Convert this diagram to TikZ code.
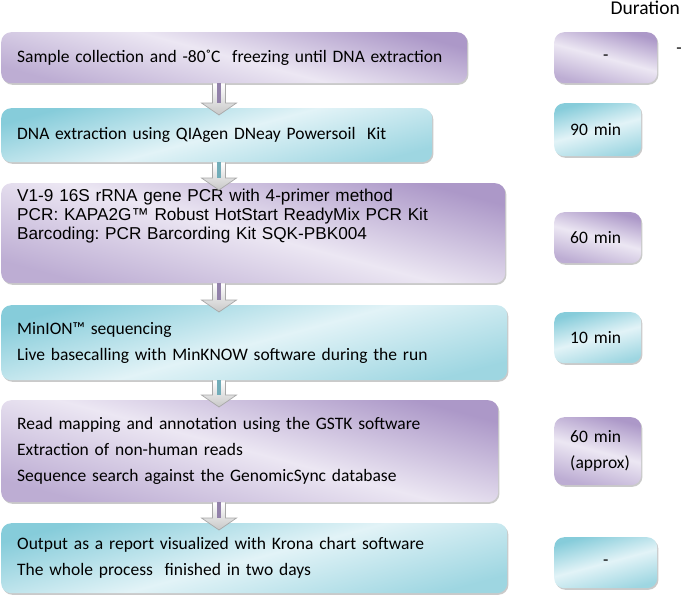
\documentclass[tikz,border=0pt]{standalone}
\usepackage{fontspec}
\setmainfont{Carlito}
\newfontfamily\arialf{Liberation Sans}
\frenchspacing
\usetikzlibrary{calc,shadows}
\definecolor{pdark}{HTML}{AC98C8}
\definecolor{plight}{HTML}{ECE7F3}
\definecolor{cdark}{HTML}{86CCDA}
\definecolor{clight}{HTML}{E2F3F7}
\definecolor{arrline}{HTML}{A8A8A8}
\tikzset{
  box/.style={anchor=north west, rounded corners=10pt, draw=none,
    align=left, inner xsep=16pt, inner ysep=0pt,
    font=\fontsize{17.5}{26}\selectfont,
    drop shadow={shadow xshift=1.2pt, shadow yshift=-1.6pt, opacity=0.35, fill=black!60}},
  pbox/.style={box, top color=pdark, bottom color=pdark!80!white, middle color=plight, shading angle=-15},
  cbox/.style={box, top color=cdark, bottom color=cdark!80!white, middle color=clight, shading angle=15},
  blockarr/.style={draw=arrline, line width=0.7pt, top color=white, bottom color=black!22, line join=miter},
  lbl/.style={font=\fontsize{17.5}{26}\selectfont, inner sep=0pt}
}
\newcommand{\flowarr}[3]{%
  \coordinate (T) at ($(#1.south west)+(218,0)$);
  \coordinate (P) at ($(#2.north west)+(218,7)$);
  \draw[blockarr] ($(T)+(-6.5,0)$) -- ($(P)+(-6.5,-12)$) -- ($(P)+(-17.5,-12)$) -- (P)
     -- ($(P)+(17.5,-12)$) -- ($(P)+(6.5,-12)$) -- ($(T)+(6.5,0)$);
  \fill[#3] ($(T)+(-2.5,0)$) rectangle ($(P)+(2,-12)$);
}
\begin{document}
\begin{tikzpicture}[x=1pt,y=-1pt]
\useasboundingbox (0,0) rectangle (685,595);
% main boxes
\node[pbox, text width=434pt, minimum height=51pt] (b1) at (1,32)
  {Sample collection and -80˚C\ \ freezing until DNA extraction\vphantom{Ag}};
\node[cbox, text width=399pt, minimum height=54pt] (b2) at (1,108)
  {DNA extraction using QIAgen DNeay Powersoil\ \ Kit};
\node[pbox, text width=472pt, minimum height=100pt, font=\arialf\fontsize{17.2}{19}\selectfont] (b3) at (1,183)
  {V1-9 16S rRNA gene PCR with 4-primer method\\
   PCR: KAPA2G™ Robust HotStart ReadyMix PCR Kit\\
   Barcoding: PCR Barcording Kit SQK-PBK004\\ \mbox{}\\ \mbox{}};
\node[cbox, text width=474pt, minimum height=75pt] (b4) at (1,305)
  {MinION™ sequencing\\ Live basecalling with MinKNOW software during the run};
\node[pbox, text width=465pt, minimum height=102pt] (b5) at (1,400)
  {Read mapping and annotation using the GSTK software\\
   Extraction of non-human reads\\
   Sequence search against the GenomicSync database};
\node[cbox, text width=474pt, minimum height=70pt] (b6) at (1,523)
  {Output as a report visualized with Krona chart software\\
   The whole process\ \ finished in two days};
% duration boxes
\node[pbox, text width=103pt, inner xsep=0pt, minimum height=51pt, align=center] (d1) at (554,32) {-};
\node[cbox, text width=87pt, minimum height=53pt, inner xsep=0pt] (d2) at (554,103) {\hspace*{16pt}90 min\\[6pt]};
\node[pbox, text width=87pt, minimum height=51pt, inner xsep=0pt] (d3) at (554,212) {\hspace*{16pt}60 min\\[4pt]};
\node[cbox, text width=87pt, minimum height=51pt, inner xsep=0pt] (d4) at (554,312) {\hspace*{16pt}10 min\\[4pt]};
\node[pbox, text width=87pt, minimum height=68pt, inner xsep=0pt] (d5) at (554,417) {\hspace*{16pt}60 min\\\hspace*{16pt}(approx)};
\node[cbox, text width=103pt, inner xsep=0pt, minimum height=51pt, align=center] (d6) at (554,537) {-};
% labels
\node[lbl, anchor=east, font=\fontsize{19.5}{24}\selectfont] (dur) at (680,8) {Duration};
\node[lbl] (dash) at (679,51) {-};
% arrows
\flowarr{b1}{b2}{pdark!85!black}
\flowarr{b2}{b3}{cdark!85!black}
\flowarr{b3}{b4}{pdark!85!black}
\flowarr{b4}{b5}{cdark!85!black}
\flowarr{b5}{b6}{pdark!85!black}
\end{tikzpicture}
\end{document}
